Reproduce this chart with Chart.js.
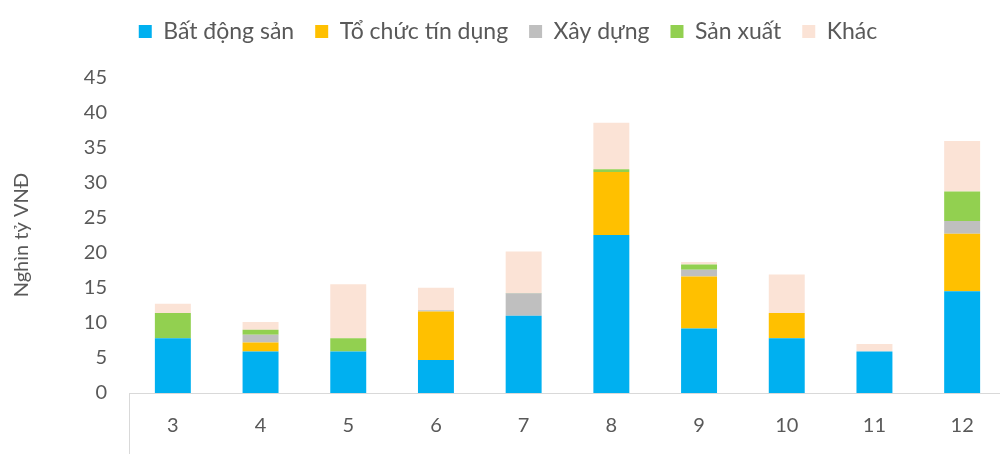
<!DOCTYPE html>
<html>
<head>
<meta charset="utf-8">
<script src="https://cdn.jsdelivr.net/npm/chart.js@4.4.0/dist/chart.umd.min.js"></script>
<style>
html,body{margin:0;padding:0;background:#fff;overflow:hidden;}
#wrap{width:1006px;height:454px;position:relative;}
</style>
</head>
<body>
<div id="wrap"><canvas id="c"></canvas></div>
<script>
const categories = ['3','4','5','6','7','8','9','10','11','12'];
const batDongSan = [7.8, 5.9, 5.9, 4.7, 11.0, 22.5, 9.2, 7.8, 5.9, 14.5];
const toChucTinDung = [0, 1.3, 0, 6.9, 0, 9.0, 7.4, 3.6, 0, 8.2];
const xayDung = [0, 1.1, 0, 0.2, 3.2, 0, 0.95, 0, 0, 1.8];
const sanXuat = [3.6, 0.7, 1.9, 0, 0.05, 0.4, 0.75, 0, 0, 4.2];
const khac = [1.3, 1.1, 7.7, 3.2, 5.9, 6.6, 0.35, 5.5, 1.1, 7.2];
const yTicks = [0,5,10,15,20,25,30,35,40,45];

const FONT = 'Lato, "Open Sans", sans-serif';
const TXT = '#595959';

const leftBox = {
  id: 'leftBox',
  afterDraw(chart) {
    const ctx = chart.ctx, a = chart.chartArea;
    ctx.save();
    ctx.strokeStyle = '#D9D9D9';
    ctx.lineWidth = 1;
    ctx.beginPath();
    ctx.moveTo(a.left + 0.5, a.bottom);
    ctx.lineTo(a.left + 0.5, chart.height);
    ctx.stroke();
    ctx.restore();
  }
};

new Chart(document.getElementById('c'), {
  type: 'bar',
  data: {
    labels: categories,
    datasets: [
      {label: 'Bất động sản', data: batDongSan, backgroundColor: '#00B0F0'},
      {label: 'Tổ chức tín dụng', data: toChucTinDung, backgroundColor: '#FFC000'},
      {label: 'Xây dựng', data: xayDung, backgroundColor: '#BFBFBF'},
      {label: 'Sản xuất', data: sanXuat, backgroundColor: '#92D050'},
      {label: 'Khác', data: khac, backgroundColor: '#FBE3D6'}
    ]
  },
  options: {
    responsive: true,
    maintainAspectRatio: false,
    animation: false,
    layout: {padding: {left: 10, right: 0, top: -1, bottom: 0}},
    datasets: {bar: {barPercentage: 0.41, categoryPercentage: 1, borderWidth: 0}},
    plugins: {
      legend: {
        position: 'top',
        labels: {
          font: {family: FONT, size: 23},
          color: TXT,
          boxWidth: 13,
          boxHeight: 13,
          padding: 21
        }
      },
      title: {
        display: true,
        text: '',
        position: 'top',
        weight: 500,
        font: {size: 1},
        padding: {top: 0, bottom: 23}
      },
      tooltip: {enabled: false}
    },
    scales: {
      x: {
        stacked: true,
        grid: {display: false},
        border: {display: true, color: '#D9D9D9', width: 1},
        ticks: {font: {family: FONT, size: 20}, color: TXT, padding: 13},
        afterFit(s) { s.height = 61; }
      },
      y: {
        stacked: true,
        min: 0, max: 45,
        afterBuildTicks(s) { s.ticks = yTicks.map(v => ({value: v})); },
        grid: {display: false},
        border: {display: false},
        ticks: {font: {family: FONT, size: 20}, color: TXT, padding: 14},
        title: {display: true, text: 'Nghìn tỷ VNĐ', font: {family: FONT, size: 20}, color: TXT, padding: {top: 0, bottom: 0}},
        afterFit(s) { s.width = 119; }
      }
    }
  },
  plugins: [leftBox]
});
</script>
</body>
</html>
